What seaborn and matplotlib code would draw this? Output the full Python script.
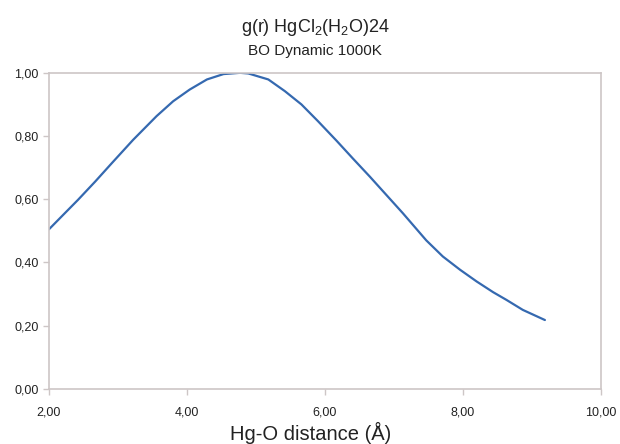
import numpy as np
import pandas as pd
import matplotlib
matplotlib.use('Agg')
import matplotlib.pyplot as plt
import matplotlib.ticker as ticker
import seaborn as sns

#=============================================================================
#g(r) values
r = [2.00, 2.23, 2.42, 2.67, 2.91, 3.22, 3.56, 3.80, 4.04, 4.29, 4.53,
     4.77, 4.89, 5.18, 5.42, 5.66, 5.90, 6.17, 6.41, 6.65, 6.89, 7.13,
     7.47, 7.71, 7.96, 8.20, 8.44, 8.63, 8.87, 9.19]
g = [0.505, 0.556, 0.598, 0.656, 0.714, 0.788, 0.863, 0.910, 0.947, 0.979,
     0.996, 1.000, 0.998, 0.979, 0.942, 0.900, 0.847, 0.785, 0.728, 0.672,
     0.614, 0.556, 0.470, 0.419, 0.377, 0.340, 0.306, 0.282, 0.250, 0.218]

xticks = [2, 4, 6, 8, 10]
yticks = [0.0, 0.2, 0.4, 0.6, 0.8, 1.0]

df = pd.DataFrame({'r': r, 'g': g})

#=============================================================================
sns.set_style('white')
plt.rcParams['font.family'] = ['Liberation Sans', 'DejaVu Sans']
plt.rcParams['mathtext.default'] = 'regular'

fig = plt.figure(figsize=(6.2, 4.44), dpi=100)
ax = fig.add_axes([0.079, 0.124, 0.890, 0.712])

sns.lineplot(x='r', y='g', data=df, ax=ax, color='#3569b0', linewidth=1.6)

ax.set_xlim(2, 10)
ax.set_ylim(0, 1)
ax.set_xticks(xticks)
ax.set_yticks(yticks)

comma = ticker.FuncFormatter(lambda v, p: ('%.2f' % v).replace('.', ','))
ax.xaxis.set_major_formatter(comma)
ax.yaxis.set_major_formatter(comma)

sc = '#cdc6c6'
for s in ax.spines.values():
    s.set_color(sc)
    s.set_linewidth(1.2)
ax.tick_params('both', length=4, width=1, color=sc, direction='out',
               labelsize=9, labelcolor='#222222', bottom=True, left=True)
ax.tick_params('x', pad=9)

ax.set_xlabel(u'Hg-O distance (\u00c5)', fontsize=14.5, color='#222222')
ax.xaxis.set_label_coords(0.475, -0.104)
ax.set_ylabel('')

fig.text(0.508, 0.939, r'g(r) HgCl$_2$(H$_2$O)24', ha='center',
         va='center', fontsize=13, color='#222222')
fig.text(0.508, 0.885, 'BO Dynamic 1000K', ha='center', va='center',
         fontsize=11, color='#222222')

fig.savefig('out.png', dpi=100)
